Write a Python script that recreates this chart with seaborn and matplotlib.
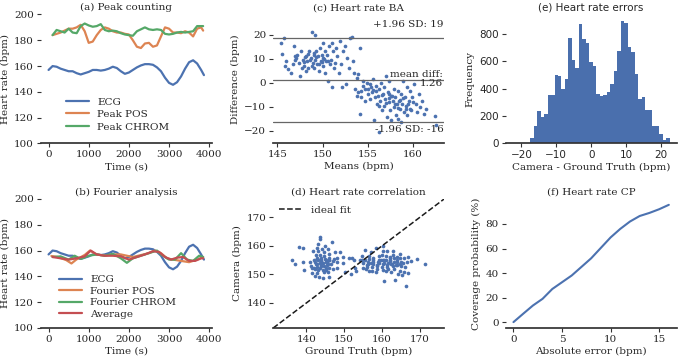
import numpy as np
import matplotlib
matplotlib.use("Agg")
import matplotlib.pyplot as plt
import seaborn as sns

# --- (a)/(b) heart rate over time ---
ecg_t = [0, 100, 200, 300, 400, 500, 600, 700, 800, 900, 1000, 1100, 1200, 1300,
         1400, 1500, 1600, 1700, 1800, 1900, 2000, 2100, 2200, 2300, 2400, 2500,
         2600, 2700, 2800, 2900, 3000, 3100, 3200, 3300, 3400, 3500, 3600, 3700,
         3800, 3870]
ecg_hr = [157, 160, 159.5, 158, 157, 156, 156, 154.5, 153.5, 154.5, 155.5, 157,
          157, 156.5, 157, 158, 159.5, 158.5, 156, 154, 155, 157, 159, 160.5,
          161.5, 161.5, 161, 159, 156, 151, 147, 145.5, 147.5, 152, 158, 163,
          164.5, 162, 157, 153]

peak_t = [100, 200, 300, 400, 500, 600, 700, 800, 900, 1000, 1100, 1200, 1300,
          1400, 1500, 1600, 1700, 1800, 1900, 2000, 2100, 2200, 2300, 2400, 2500,
          2600, 2700, 2800, 2900, 3000, 3100, 3200, 3300, 3400, 3500, 3600, 3700,
          3800, 3850]
peak_pos = [184, 185, 186, 187.5, 189, 189, 190, 192, 187, 178, 179, 184, 188,
            190, 189, 187, 186, 186, 185, 184.5, 180, 175, 174, 177.5, 178, 175,
            176, 183, 190, 189, 186, 186, 185.5, 187, 186, 183, 189, 190, 187.5]
peak_chrom = [184, 188, 187, 186, 189, 186, 185.5, 191, 193, 191.5, 190.5, 191,
              192.5, 188, 187, 187.5, 187, 185.5, 184.5, 184, 183.5, 187, 188.5,
              190, 188.5, 188, 188.5, 188, 185, 184.5, 185, 186, 186.5, 186, 186.5,
              187, 191, 191, 191]

four_pos_t = [70, 230, 440, 570, 690, 900, 1030, 1190, 1400, 1600, 1800, 1950,
              2100, 2300, 2500, 2650, 2800, 2950, 3100, 3300, 3500, 3700, 3850]
four_pos = [155.8, 155, 152.6, 150, 153, 156.6, 160, 157, 156, 157, 157, 156,
            155, 156.5, 158, 160, 158, 154, 153, 152, 151, 153, 155]
four_chrom_t = [100, 300, 500, 650, 800, 1000, 1200, 1400, 1600, 1800, 1950, 2100,
                2300, 2500, 2700, 2800, 3000, 3150, 3300, 3450, 3600, 3750, 3850]
four_chrom = [155, 155.5, 153, 156, 153.5, 156, 157, 156, 157.5, 154, 150.5, 154,
              156, 158, 160, 157, 153, 153, 158, 153, 152, 156, 155]
avg_t = [100, 300, 500, 700, 900, 1050, 1200, 1400, 1600, 1800, 2000, 2200, 2400,
         2600, 2750, 2900, 3050, 3200, 3350, 3500, 3650, 3800, 3850]
avg_hr = [155, 154, 153, 154, 155.5, 160, 157, 156, 156, 155.5, 153, 155, 157,
          159.5, 159, 155, 153, 154.5, 155, 152, 152, 154, 154]

# --- (c) Bland-Altman: means and differences (camera - ground truth) ---
ba_means = [145.7, 145.4, 145.5, 145.8, 146.0, 146.2, 146.7, 146.8, 146.5, 147.1,
            147.2, 147.4, 147.5, 147.6, 147.8, 148.0, 148.2, 148.3, 148.4, 148.5,
            148.7, 148.8, 148.9, 149.0, 149.1, 149.2, 149.2, 149.3, 149.4, 149.5,
            149.6, 149.7, 149.8, 149.9, 150.0, 150.1, 150.1, 150.3, 150.3, 150.4,
            150.5, 150.6, 150.7, 150.8, 150.9, 151.0, 151.0, 151.2, 151.3, 151.5,
            151.6, 151.8, 151.9, 152.0, 152.1, 152.3, 152.5, 152.6, 152.7, 152.9,
            153.0, 153.3, 153.4, 153.5, 153.8, 153.9, 154.1, 154.3, 154.5,
            147.9, 148.1, 148.6, 149.3, 149.6, 148.4, 147.0, 149.9, 150.2, 148.8,
            146.9, 147.7, 149.1, 150.6, 151.4, 148.2,
            153.6, 153.8, 153.9, 154.1, 154.3, 154.5, 154.7, 154.7, 154.9, 155.0,
            155.0, 155.2, 155.3, 155.4, 155.5, 155.6, 155.7, 155.8, 155.9, 155.9,
            156.0, 156.1, 156.2, 156.3, 156.4, 156.5, 156.6, 156.7, 156.8, 156.8,
            156.9, 157.0, 157.1, 157.2, 157.3, 157.4, 157.5, 157.6, 157.6, 157.8,
            157.9, 157.9, 158.0, 158.1, 158.2, 158.3, 158.4, 158.5, 158.6, 158.7,
            158.7, 158.8, 158.9, 159.0, 159.1, 159.2, 159.3, 159.4, 159.6, 159.7,
            159.7, 159.9, 160.1, 160.3, 160.5, 160.7, 160.8, 161.0, 161.2, 161.4,
            162.4, 162.6,
            157.3, 158.0, 158.6, 159.2, 157.7, 158.4, 159.5, 156.6, 157.0, 158.9,
            155.6, 156.2, 160.0, 159.8, 157.4]
ba_diffs = [18.9, 16.6, 12.2, 7.0, 9.0, 5.6, 7.7, 15.2, 4.2, 10.4,
            11.8, 8.4, 2.9, 13.2, 9.7, 7.0, 11.1, 9.0, 6.3, 13.2,
            10.4, 21.4, 8.4, 11.8, 6.3, 9.7, 20.0, 13.2, 7.7, 11.1,
            4.9, 14.5, 9.0, 11.8, 16.6, 7.0, 10.4, 13.2, 4.2, 9.0,
            11.8, 0.8, 15.2, 7.7, 9.7, 16.6, -1.6, 13.2, 6.3, 14.5,
            11.1, 4.2, 17.5, 7.7, -1.9, 13.2, 15.2, -0.5, 10.4, 6.3,
            18.6, 19.3, 9.0, 4.2, 2.2, 3.6, 14.5, -3.3, 0.8,
            8.5, 10.8, 9.5, 10.9, 8.0, 12.0, 9.5, 8.8, 10.0, 7.2,
            11.0, 6.0, 12.5, 9.0, 8.2, 5.0,
            -2.6, -5.3, -4.0, -12.9, -6.0, -1.2, -2.6, -7.4, 0.1, -4.7,
            -2.6, -0.5, -6.7, -1.9, -4.0, 1.5, -15.6, -6.0, -1.2, -3.3,
            -8.8, -5.3, -20.4, -2.6, -7.4, 0.1, -11.5, -4.7, -1.9, -9.5,
            -6.7, 2.9, -14.2, -4.0, -8.1, 0.8, -11.5, -5.3, -15.6, -7.4,
            -2.6, -10.1, -6.0, -13.6, -8.8, -3.3, -14.9, -7.4, -10.8, -4.7,
            -16.3, -8.8, 0.8, -12.2, -6.0, -9.5, -1.9, -13.6, -7.4, -3.3,
            -10.8, -6.0, -0.5, -8.8, -12.2, -4.7, -10.1, -7.4, -12.9, -10.8,
            -14.0, -17.7,
            -6.5, -9.0, -7.0, -11.0, -5.5, -10.5, -9.0, -5.0, -8.5, -6.5,
            -3.0, -9.8, -8.0, -11.5, -4.5]
mean_diff = 1.26
sd_upper = 18.9
sd_lower = -16.3

# --- (e) error histogram (bin centers, counts) ---
err_bins = [-17, -16, -15, -14, -13, -12, -11, -10, -9, -8, -7, -6, -5, -4, -3,
            -2, -1, 0, 1, 2, 3, 4, 5, 6, 7, 8, 9, 10, 11, 12, 13, 14, 15, 16, 17,
            18, 19, 20, 21, 22]
err_counts = [40, 125, 240, 190, 215, 350, 350, 500, 495, 400, 470, 765, 610,
              553, 870, 760, 730, 597, 567, 360, 343, 355, 377, 430, 530, 675,
              895, 875, 705, 670, 507, 326, 338, 246, 246, 130, 130, 68, 29, 41]

# --- (f) coverage probability ---
cp_err = [0, 1, 2, 3, 4, 5, 6, 7, 8, 9, 10, 11, 12, 13, 14, 15, 16]
cp_pct = [0, 6.8, 13.5, 19, 27, 32.5, 38, 45, 52, 60.5, 69, 76, 82, 86.5, 89,
          92, 95.6]

sns.set_theme(style="ticks", palette="deep")
plt.rcParams['font.family'] = ['DejaVu Serif']
plt.rcParams['font.size'] = 7.5
plt.rcParams['axes.titlesize'] = 7.5
plt.rcParams['axes.labelsize'] = 7.5
plt.rcParams['xtick.labelsize'] = 7.5
plt.rcParams['ytick.labelsize'] = 7.5
plt.rcParams['legend.fontsize'] = 7.5

pal = sns.color_palette("deep")
blue, orange, green, red = pal[0], pal[1], pal[2], pal[3]

fig, axs = plt.subplots(2, 3, figsize=(6.8, 3.62), dpi=100)
fig.subplots_adjust(left=0.06, right=0.995, bottom=0.094, top=0.96,
                    wspace=0.36, hspace=0.43)

# (a)
ax = axs[0, 0]
sns.lineplot(x=ecg_t, y=ecg_hr, ax=ax, color=blue, lw=1.6, label="ECG")
sns.lineplot(x=peak_t, y=peak_pos, ax=ax, color=orange, lw=1.6, label="Peak POS")
sns.lineplot(x=peak_t, y=peak_chrom, ax=ax, color=green, lw=1.6, label="Peak CHROM")
ax.set_ylim(100, 200)
ax.set_xticks([0, 1000, 2000, 3000, 4000])
ax.set_title("(a) Peak counting", pad=3)
ax.set_xlabel("Time (s)")
ax.set_ylabel("Heart rate (bpm)")
ax.legend(loc="lower center", frameon=False, handlelength=2.2, labelspacing=0.3,
          bbox_to_anchor=(0.45, 0.02))

# (b)
ax = axs[1, 0]
sns.lineplot(x=ecg_t, y=ecg_hr, ax=ax, color=blue, lw=1.6, label="ECG")
sns.lineplot(x=four_pos_t, y=four_pos, ax=ax, color=orange, lw=1.6, label="Fourier POS")
sns.lineplot(x=four_chrom_t, y=four_chrom, ax=ax, color=green, lw=1.6, label="Fourier CHROM")
sns.lineplot(x=avg_t, y=avg_hr, ax=ax, color=red, lw=1.6, label="Average")
ax.set_ylim(100, 200)
ax.set_xticks([0, 1000, 2000, 3000, 4000])
ax.set_title("(b) Fourier analysis", pad=3)
ax.set_xlabel("Time (s)")
ax.set_ylabel("Heart rate (bpm)")
ax.legend(loc="lower center", frameon=False, handlelength=2.2, labelspacing=0.2,
          bbox_to_anchor=(0.45, 0.0))

# (c)
means = np.array(ba_means)
diffs = np.array(ba_diffs)
ax = axs[0, 1]
sns.scatterplot(x=means, y=diffs, ax=ax, color=blue, s=7, linewidth=0)
for yv in [sd_upper, mean_diff, sd_lower]:
    ax.axhline(yv, color="0.4", lw=0.9)
ax.set_ylim(-25.3, 28.5)
ax.set_xticks([145, 150, 155, 160])
ax.set_yticks([-20, -10, 0, 10, 20])
ax.text(0.995, sd_upper + 3.5, "+1.96 SD: 19", transform=ax.get_yaxis_transform(),
        ha="right", va="bottom")
ax.text(0.995, mean_diff + 0.5, "mean diff:\n1.26", transform=ax.get_yaxis_transform(),
        ha="right", va="center", linespacing=1.0)
ax.text(0.995, sd_lower - 1.2, "-1.96 SD: -16", transform=ax.get_yaxis_transform(),
        ha="right", va="top")
ax.set_title("(c) Heart rate BA", pad=3)
ax.set_xlabel("Means (bpm)")
ax.set_ylabel("Difference (bpm)")

# (d)
gt = means - diffs / 2
cam = means + diffs / 2
lo = min(gt.min(), cam.min()) - 5
hi = max(gt.max(), cam.max()) + 5
ax = axs[1, 1]
sns.scatterplot(x=gt, y=cam, ax=ax, color=blue, s=7, linewidth=0)
ax.plot([lo, hi], [lo, hi], "k--", lw=1.1, label="ideal fit")
ax.set_xlim(lo, hi)
ax.set_ylim(lo, hi)
ax.set_xticks([140, 150, 160, 170])
ax.set_yticks([140, 150, 160, 170])
ax.legend(loc="upper left", frameon=False, handlelength=2.2, borderaxespad=0.2)
ax.set_title("(d) Heart rate correlation", pad=3)
ax.set_xlabel("Ground Truth (bpm)")
ax.set_ylabel("Camera (bpm)")

# (e)
ax = axs[0, 2]
edges = [b - 0.5 for b in err_bins] + [err_bins[-1] + 0.5]
sns.histplot(x=err_bins, weights=err_counts, bins=edges, ax=ax, color="#4a6fad",
             element="step", alpha=1, linewidth=0)
ax.set_xlim(-24.5, 24.5)
ax.set_xticks([-20, -10, 0, 10, 20])
ax.set_yticks([0, 200, 400, 600, 800])
ax.set_title("(e) Heart rate errors", pad=3, family="DejaVu Sans")
for lab in ax.get_xticklabels() + ax.get_yticklabels():
    lab.set_family("DejaVu Sans")
ax.set_xlabel("Camera - Ground Truth (bpm)")
ax.set_ylabel("Frequency")

# (f)
ax = axs[1, 2]
sns.lineplot(x=cp_err, y=cp_pct, ax=ax, color=blue, lw=1.5)
ax.set_xticks([0, 5, 10, 15])
ax.set_yticks([0, 20, 40, 60, 80])
ax.set_title("(f) Heart rate CP", pad=3)
ax.set_xlabel("Absolute error (bpm)")
ax.set_ylabel("Coverage probability (%)")

for ax in axs.flat:
    ax.spines["top"].set_visible(False)
    ax.spines["right"].set_visible(False)
    ax.spines["left"].set_visible(False)
    ax.spines["bottom"].set_color("0.2")
    ax.tick_params(length=3, width=0.8, pad=2, color="0.2")
    ax.xaxis.labelpad = 2
    ax.yaxis.labelpad = 3

plt.savefig("out.png", dpi=100)
